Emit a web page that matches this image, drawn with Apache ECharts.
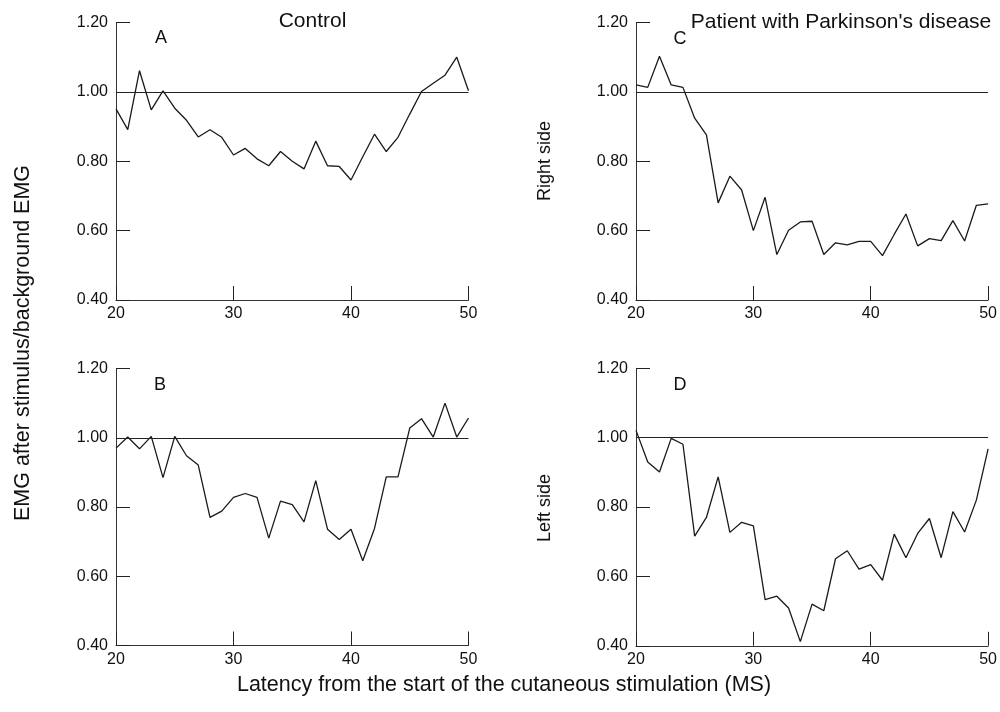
<!DOCTYPE html>
<html>
<head>
<meta charset="utf-8">
<script src="https://cdn.jsdelivr.net/npm/echarts@6/dist/echarts.min.js"></script>
<style>html,body{margin:0;padding:0;background:#fff}#c{width:1000px;height:712px}</style>
</head>
<body>
<div id="c"></div>
<script>
const latency = [20,21,22,23,24,25,26,27,28,29,30,31,32,33,34,35,36,37,38,39,40,41,42,43,44,45,46,47,48,49,50];
const controlA = [0.951,0.891,1.061,0.948,1.003,0.953,0.918,0.870,0.891,0.869,0.818,0.837,0.807,0.787,0.828,0.800,0.778,0.858,0.787,0.785,0.746,0.813,0.878,0.828,0.869,0.936,1.001,1.025,1.048,1.100,1.003];
const controlB = [0.970,1.002,0.968,1.004,0.885,1.004,0.948,0.921,0.770,0.788,0.828,0.839,0.828,0.710,0.817,0.807,0.757,0.876,0.736,0.706,0.736,0.645,0.738,0.887,0.887,1.028,1.055,1.002,1.100,1.002,1.057];
const parkinsonRightC = [1.020,1.013,1.103,1.020,1.013,0.924,0.876,0.680,0.757,0.717,0.600,0.696,0.531,0.601,0.625,0.627,0.531,0.565,0.559,0.569,0.569,0.528,0.589,0.648,0.556,0.577,0.571,0.629,0.570,0.673,0.677];
const parkinsonLeftD = [1.021,0.930,0.901,0.998,0.981,0.716,0.770,0.887,0.727,0.756,0.746,0.533,0.543,0.509,0.412,0.520,0.501,0.651,0.674,0.621,0.634,0.589,0.722,0.654,0.724,0.767,0.654,0.787,0.728,0.820,0.968];
const xTicks = [20, 30, 40, 50];
const yTicks = [0.40, 0.60, 0.80, 1.00, 1.20];
const baseline = 1.00;

const FONT = '"Liberation Sans", Arial, Helvetica, sans-serif';
const panels = [
  {data: controlA, left: 116, top: 22.5, height: 277.5},
  {data: parkinsonRightC, left: 636, top: 22.5, height: 277.5},
  {data: controlB, left: 116, top: 368.5, height: 277},
  {data: parkinsonLeftD, left: 636, top: 368.3, height: 277.5}
];

const grids = [], xAxes = [], yAxes = [], series = [];
panels.forEach((p, i) => {
  grids.push({left: p.left, top: p.top, width: 352.5, height: p.height, containLabel: false});
  xAxes.push({
    type: 'value', gridIndex: i,
    min: xTicks[0], max: xTicks[xTicks.length - 1], interval: xTicks[1] - xTicks[0],
    axisLine: {show: true, onZero: false, lineStyle: {color: '#333', width: 1}},
    axisTick: {show: true, inside: true, length: 14, lineStyle: {color: '#222', width: 1}},
    axisLabel: {fontSize: 16, color: '#111', margin: 6, fontFamily: FONT},
    splitLine: {show: false}
  });
  yAxes.push({
    type: 'value', gridIndex: i,
    min: yTicks[0], max: yTicks[yTicks.length - 1], interval: 0.2,
    axisLine: {show: true, lineStyle: {color: '#333', width: 1}},
    axisTick: {show: true, inside: true, length: 14, lineStyle: {color: '#222', width: 1}},
    axisLabel: {fontSize: 16, color: '#111', margin: 8, fontFamily: FONT, formatter: v => v.toFixed(2)},
    splitLine: {show: false}
  });
  series.push({
    type: 'line', xAxisIndex: i, yAxisIndex: i,
    data: latency.map((x, k) => [x, p.data[k]]),
    showSymbol: false, symbol: 'none',
    lineStyle: {color: '#1a1a1a', width: 1.3},
    animation: false, silent: true,
    markLine: {
      silent: true, symbol: ['none', 'none'], animation: false,
      label: {show: false},
      lineStyle: {color: '#222', width: 1, type: 'solid'},
      data: [{yAxis: baseline}]
    }
  });
});

function txt(x, y, s, size, rot) {
  return {type: 'text', x: x, y: y, rotation: rot || 0, silent: true,
    style: {text: s, fontSize: size, fontFamily: FONT, fill: '#111', textAlign: 'center', textVerticalAlign: 'middle'}};
}

const chart = echarts.init(document.getElementById('c'), null, {renderer: 'canvas'});
chart.setOption({
  backgroundColor: '#fff',
  animation: false,
  grid: grids, xAxis: xAxes, yAxis: yAxes, series: series,
  graphic: [
    txt(312.5, 21, 'Control', 21),
    txt(841, 22, "Patient with Parkinson's disease", 21),
    txt(161, 38, 'A', 18),
    txt(680, 39, 'C', 18),
    txt(160, 385, 'B', 18),
    txt(680, 385, 'D', 18),
    txt(23, 343, 'EMG after stimulus/background EMG', 21.5, Math.PI / 2),
    txt(545, 161, 'Right side', 18, Math.PI / 2),
    txt(545, 508, 'Left side', 18, Math.PI / 2),
    txt(504, 685, 'Latency from the start of the cutaneous stimulation (MS)', 21.5)
  ]
});
</script>
</body>
</html>
